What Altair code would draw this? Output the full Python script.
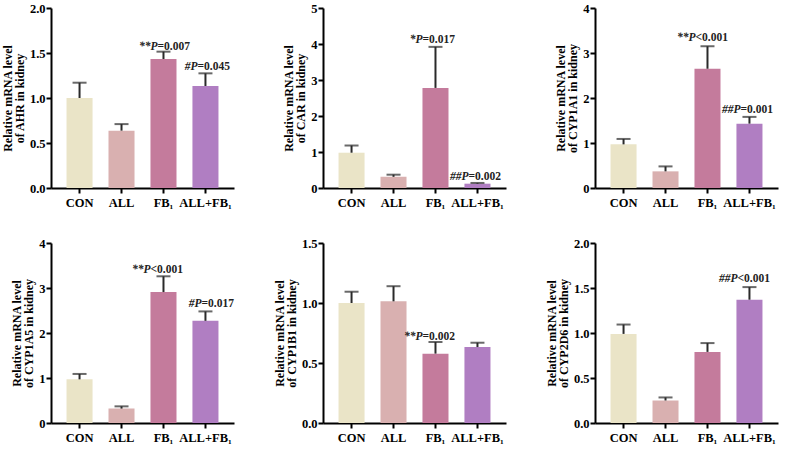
import altair as alt
import pandas as pd

groups = ["CON", "ALL", "FB₁", "ALL+FB₁"]
colors = ["#EAE4C7", "#D9B0B0", "#C47B9C", "#B07EC2"]

genes = ["AHR", "CAR", "CYP1A1", "CYP1A5", "CYP1B1", "CYP2D6"]
y_max = [2.0, 5, 4, 4, 1.5, 2.0]
y_ticks = [[0, 0.5, 1.0, 1.5, 2.0], [0, 1, 2, 3, 4, 5], [0, 1, 2, 3, 4],
           [0, 1, 2, 3, 4], [0, 0.5, 1.0, 1.5], [0, 0.5, 1.0, 1.5, 2.0]]
y_fmt = [".1f", "d", "d", "d", ".1f", ".1f"]

ahr_mean = [1.00, 0.637, 1.433, 1.133]
ahr_err = [0.17, 0.073, 0.082, 0.141]
car_mean = [0.98, 0.31, 2.78, 0.12]
car_err = [0.20, 0.06, 1.14, 0.02]
cyp1a1_mean = [0.97, 0.37, 2.65, 1.43]
cyp1a1_err = [0.12, 0.11, 0.50, 0.15]
cyp1a5_mean = [0.97, 0.32, 2.91, 2.27]
cyp1a5_err = [0.12, 0.05, 0.35, 0.21]
cyp1b1_mean = [1.00, 1.014, 0.578, 0.633]
cyp1b1_err = [0.094, 0.126, 0.097, 0.036]
cyp2d6_mean = [0.99, 0.25, 0.79, 1.37]
cyp2d6_err = [0.104, 0.034, 0.098, 0.14]

means = [ahr_mean, car_mean, cyp1a1_mean, cyp1a5_mean, cyp1b1_mean, cyp2d6_mean]
errs = [ahr_err, car_err, cyp1a1_err, cyp1a5_err, cyp1b1_err, cyp2d6_err]

# annotations: panel index, group, italic prefix, suffix, baseline value, pixel offset of split
ann_panel = [0, 0, 1, 1, 2, 2, 3, 3, 4, 5]
ann_group = ["FB₁", "ALL+FB₁", "FB₁", "ALL+FB₁", "FB₁", "ALL+FB₁", "FB₁", "ALL+FB₁", "FB₁", "ALL+FB₁"]
ann_prefix = ["**P", "#P", "*P", "##P", "**P", "##P", "**P", "#P", "**P", "##P"]
ann_suffix = ["=0.007", "=0.045", "=0.017", "=0.002", "<0.001", "=0.001", " <0.001", "=0.017", "=0.002", "<0.001"]
ann_y = [1.53, 1.31, 4.03, 0.21, 3.26, 1.67, 3.33, 2.57, 0.69, 1.565]
ann_dx = [-6, -8, -13, -9, -12, -9, -13, -4, -13, -12]

SERIF = "Liberation Serif"
W, H = 183, 180


def panel(i):
    df = pd.DataFrame({
        "group": groups,
        "mean": means[i],
        "top": [m + e for m, e in zip(means[i], errs[i])],
    })
    xscale = alt.Scale(domain=groups, paddingInner=0.38, paddingOuter=0.37)
    xaxis = alt.Axis(title=None, labelAngle=0, labelPadding=3, labelOverlap=False)
    yscale = alt.Scale(domain=[0, y_max[i]], nice=False, zero=True)
    yaxis = alt.Axis(values=y_ticks[i], format=y_fmt[i], labelOverlap=False,
                     title=["Relative mRNA  level", f"of {genes[i]} in  kidney"],
                     labelPadding=1, titlePadding=3)

    def xe():
        return alt.X("group:N", sort=groups, scale=xscale, axis=xaxis)

    def ye(f):
        return alt.Y(f, scale=yscale, axis=yaxis)

    bars = alt.Chart(df).mark_bar().encode(
        x=xe(), y=ye("mean:Q"),
        color=alt.Color("group:N", scale=alt.Scale(domain=groups, range=colors), legend=None),
    )
    rule = alt.Chart(df).mark_rule(color="#2a2a2a", strokeWidth=2).encode(
        x=xe(), y=ye("mean:Q"), y2="top:Q")
    cap = alt.Chart(df).mark_tick(color="#2a2a2a", thickness=2, size=14, orient="horizontal").encode(
        x=xe(), y=ye("top:Q"))
    layers = [bars, rule, cap]
    for k in range(len(ann_panel)):
        if ann_panel[k] != i:
            continue
        adf = pd.DataFrame({"group": [ann_group[k]], "y": [ann_y[k]],
                            "pre": [ann_prefix[k]], "suf": [ann_suffix[k]]})
        pre = alt.Chart(adf).mark_text(
            align="right", baseline="alphabetic", font=SERIF, fontWeight="bold",
            fontStyle="italic", fontSize=11.5, color="#222222", dx=ann_dx[k]
        ).encode(x=xe(), y=ye("y:Q"), text="pre:N")
        suf = alt.Chart(adf).mark_text(
            align="left", baseline="alphabetic", font=SERIF, fontWeight="bold",
            fontSize=11.5, color="#222222", dx=ann_dx[k]
        ).encode(x=xe(), y=ye("y:Q"), text="suf:N")
        layers += [pre, suf]
    return alt.layer(*layers).properties(width=W, height=H)


chart = alt.concat(*[panel(i) for i in range(6)], columns=3).properties(
    spacing={"column": 39, "row": 28},
    padding={"left": 1, "top": 2, "right": 2, "bottom": 2},
    background="white",
).configure_view(stroke=None).configure_axis(
    domainColor="black", domainWidth=2, tickColor="black", tickWidth=2, tickSize=5,
    grid=False, labelFont=SERIF, labelFontWeight="bold", labelFontSize=12.5, labelColor="black",
    titleFont=SERIF, titleFontWeight="bold", titleFontSize=12, titleColor="black",
    titleLineHeight=12,
)

chart.save("out.html", embed_options={"renderer": "svg", "actions": False})
